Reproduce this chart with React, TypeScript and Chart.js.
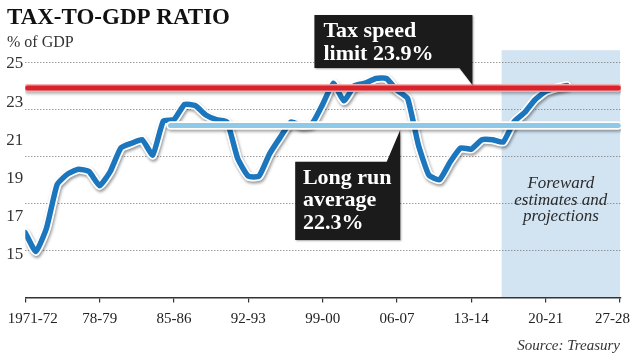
import React, { useEffect, useRef } from "react";
import { Chart, registerables } from "chart.js";

Chart.register(...registerables);

// ---- data ----
const startYears = [
  1971, 1972, 1973, 1974, 1975, 1976, 1977, 1978, 1979, 1980,
  1981, 1982, 1983, 1984, 1985, 1986, 1987, 1988, 1989, 1990,
  1991, 1992, 1993, 1994, 1995, 1996, 1997, 1998, 1999, 2000,
  2001, 2002, 2003, 2004, 2005, 2006, 2007, 2008, 2009, 2010,
  2011, 2012, 2013, 2014, 2015, 2016, 2017, 2018, 2019, 2020,
  2021, 2022,
];
const taxToGdp = [
  17.75, 16.95, 17.95, 19.8, 20.25, 20.45, 20.35, 19.75, 20.35, 21.35,
  21.55, 21.7, 21.05, 22.5, 22.55, 23.2, 23.15, 22.75, 22.55, 22.45,
  20.9, 20.15, 20.15, 21.1, 21.8, 22.45, 22.3, 22.38, 23.2, 24.1,
  23.35, 24.0, 24.1, 24.3, 24.3, 23.8, 23.45, 21.5, 20.2, 20.0,
  20.75, 21.35, 21.3, 21.7, 21.7, 21.6, 22.45, 22.85, 23.4, 23.75,
  23.9, 24.0,
];
const taxSpeedLimit = 23.9;
const taxLimitSpan = [1971.2, 2026.83];
const longRunAverage = 22.3;
const averageSpan = [1984.67, 2026.83];
const forecastSpan = [2015.85, 2027];

const xTickYears = [1971, 1978, 1985, 1992, 1999, 2006, 2013, 2020, 2027];
const xTickLabels = ["1971-72", "78-79", "85-86", "92-93", "99-00", "06-07", "13-14", "20-21", "27-28"];
const yTickValues = [15, 17, 19, 21, 23, 25];
const yGridValues = [17, 19, 21, 23, 25];

const titleText = "TAX-TO-GDP RATIO";
const unitText = "% of GDP";
const taxLabelLines = ["Tax speed", "limit 23.9%"];
const avgLabelLines = ["Long run", "average", "22.3%"];
const forecastLines = ["Foreward", "estimates and", "projections"];
const sourceText = "Source: Treasury";

const SERIF = "'Liberation Serif', 'DejaVu Serif', serif";

const decorPlugin = {
  id: "decor",
  beforeDraw(chart: any) {
    const { ctx } = chart;
    const x = chart.scales.x;
    const y = chart.scales.y;
    ctx.save();
    ctx.fillStyle = "#ffffff";
    ctx.fillRect(0, 0, chart.width, chart.height);
    const x0 = x.getPixelForValue(forecastSpan[0]);
    const x1 = x.getPixelForValue(forecastSpan[1]);
    const yTop = y.getPixelForValue(25.5);
    ctx.fillStyle = "#d2e3f2";
    ctx.fillRect(x0, yTop, x1 - x0, y.bottom - yTop);
    ctx.restore();
  },
  beforeDatasetDraw(chart: any, args: any) {
    const ds = chart.data.datasets[args.index];
    if (ds.shadow) {
      const ctx = chart.ctx;
      ctx.save();
      ctx.shadowColor = ds.shadow;
      ctx.shadowBlur = 3;
      ctx.shadowOffsetX = 1;
      ctx.shadowOffsetY = 2;
    }
  },
  afterDatasetDraw(chart: any, args: any) {
    const ds = chart.data.datasets[args.index];
    if (ds.shadow) chart.ctx.restore();
  },
  afterDraw(chart: any) {
    const { ctx } = chart;
    const x = chart.scales.x;
    const y = chart.scales.y;
    ctx.save();
    // title
    ctx.textBaseline = "alphabetic";
    ctx.textAlign = "left";
    ctx.fillStyle = "#111";
    ctx.font = `bold 23px ${SERIF}`;
    ctx.fillText(titleText, 7, 24);
    ctx.fillStyle = "#333";
    ctx.font = `16px ${SERIF}`;
    ctx.fillText(unitText, 7, 47);

    // tax speed limit box
    const redY = y.getPixelForValue(taxSpeedLimit);
    const tR = x.getPixelForValue(2013.1);
    const tL = tR - 158;
    const tT = 15;
    const tB = 68;
    ctx.save();
    ctx.shadowColor = "rgba(0,0,0,0.35)";
    ctx.shadowBlur = 2;
    ctx.shadowOffsetX = 1;
    ctx.shadowOffsetY = 1;
    ctx.fillStyle = "#1b1b1b";
    ctx.beginPath();
    ctx.moveTo(tL, tT);
    ctx.lineTo(tR, tT);
    ctx.lineTo(tR, redY - 3);
    ctx.lineTo(tR - 13, tB);
    ctx.lineTo(tL, tB);
    ctx.closePath();
    ctx.fill();
    ctx.restore();
    ctx.fillStyle = "#ffffff";
    ctx.font = `bold 22px ${SERIF}`;
    ctx.fillText(taxLabelLines[0], tL + 9, 36.7);
    ctx.fillText(taxLabelLines[1], tL + 9, 60);

    // long run average box
    const avgY = y.getPixelForValue(longRunAverage);
    const aR = x.getPixelForValue(2006.3);
    const aL = aR - 105;
    const aT = 161.7;
    const aB = 240;
    ctx.save();
    ctx.shadowColor = "rgba(0,0,0,0.35)";
    ctx.shadowBlur = 2;
    ctx.shadowOffsetX = 1;
    ctx.shadowOffsetY = 1;
    ctx.fillStyle = "#1b1b1b";
    ctx.beginPath();
    ctx.moveTo(aL, aT);
    ctx.lineTo(aR - 13.5, aT);
    ctx.lineTo(aR, avgY + 4.5);
    ctx.lineTo(aR, aB);
    ctx.lineTo(aL, aB);
    ctx.closePath();
    ctx.fill();
    ctx.restore();
    ctx.fillStyle = "#ffffff";
    ctx.font = `bold 22px ${SERIF}`;
    ctx.fillText(avgLabelLines[0], aL + 7.7, 183.5);
    ctx.fillText(avgLabelLines[1], aL + 7.7, 206);
    ctx.fillText(avgLabelLines[2], aL + 7.7, 228.5);

    // forecast note
    const fx = (x.getPixelForValue(forecastSpan[0]) + x.getPixelForValue(forecastSpan[1])) / 2;
    ctx.textAlign = "center";
    ctx.fillStyle = "#2a2a2a";
    ctx.font = `italic 17px ${SERIF}`;
    ctx.fillText(forecastLines[0], fx, 188);
    ctx.fillText(forecastLines[1], fx, 205);
    ctx.fillText(forecastLines[2], fx, 221);

    // source
    ctx.textAlign = "right";
    ctx.fillStyle = "#333";
    ctx.font = `italic 15px ${SERIF}`;
    ctx.fillText(sourceText, 620, 350);
    ctx.restore();
  },
};

export default function App() {
  const ref = useRef<HTMLCanvasElement>(null);

  useEffect(() => {
    document.body.style.margin = "0";
    const canvas = ref.current;
    if (!canvas) return;

    const mainPoints = startYears.map((yr, i) => ({ x: yr, y: taxToGdp[i] }));
    const redPoints = taxLimitSpan.map((yr) => ({ x: yr, y: taxSpeedLimit }));
    const avgPoints = averageSpan.map((yr) => ({ x: yr, y: longRunAverage }));

    const common = { xAxisID: "x", yAxisID: "y" };

    const chart = new Chart(canvas, {
      type: "line",
      data: {
        datasets: [
          { ...common, data: redPoints, borderColor: "#d8232d", borderWidth: 5, order: 0 } as any,
          { ...common, data: redPoints, borderColor: "rgba(244,172,172,0.95)", borderWidth: 8, order: 1, shadow: "rgba(0,0,0,0.3)" } as any,
          { ...common, data: avgPoints, borderColor: "#8fc9e8", borderWidth: 5, order: 2 } as any,
          { ...common, data: avgPoints, borderColor: "#ffffff", borderWidth: 8.5, order: 3, shadow: "rgba(0,0,0,0.35)" } as any,
          { ...common, data: mainPoints, borderColor: "#1c76bd", borderWidth: 5.5, order: 4, tension: 0.15 } as any,
          { ...common, data: mainPoints, borderColor: "#ffffff", borderWidth: 9, order: 5, tension: 0.15, shadow: "rgba(0,0,0,0.4)" } as any,
        ],
      },
      options: {
        responsive: false,
        animation: false,
        layout: { padding: { top: 62, left: 0, right: 0, bottom: 0 } },
        plugins: {
          legend: { display: false },
          tooltip: { enabled: false },
        },
        elements: {
          point: { radius: 0 },
          line: { borderCapStyle: "round", borderJoinStyle: "round", fill: false },
        },
        scales: {
          x: {
            type: "linear",
            position: "bottom",
            min: 1971,
            max: 2027.09,
            afterBuildTicks: (s: any) => {
              s.ticks = xTickYears.map((v) => ({ value: v }));
            },
            afterFit: (s: any) => {
              s.height = 58.5;
              s.paddingLeft = 0;
              s.paddingRight = 0;
            },
            grid: { drawOnChartArea: false, drawTicks: true, tickLength: 5, color: "#333", lineWidth: 1.2 },
            border: { display: true, color: "#333", width: 1.5 },
            ticks: {
              autoSkip: false,
              maxRotation: 0,
              minRotation: 0,
              padding: 8,
              color: "#222",
              font: { family: SERIF, size: 15 },
              callback: (_v: any, i: number) => {
                const lab = xTickLabels[i];
                if (i === 0) return "\u2002\u2002" + lab;
                if (i === xTickLabels.length - 1) return lab + "\u2002\u2002";
                return lab;
              },
            },
          },
          y: {
            type: "linear",
            position: "right",
            min: 15,
            max: 25,
            afterBuildTicks: (s: any) => {
              s.ticks = yGridValues.map((v) => ({ value: v }));
            },
            afterFit: (s: any) => {
              s.width = 11;
              s.paddingTop = 0;
              s.paddingBottom = 0;
            },
            grid: { color: "#6f6f6f", lineWidth: 1, drawTicks: false, tickLength: 0 },
            border: { display: false, dash: [1, 2] },
            ticks: { display: false },
          },
          yl: {
            type: "linear",
            position: "left",
            min: 12.775,
            max: 25.105,
            afterBuildTicks: (s: any) => {
              s.ticks = yTickValues.map((v) => ({ value: v }));
            },
            afterFit: (s: any) => {
              s.width = 25.3;
              s.paddingTop = 0;
              s.paddingBottom = 0;
            },
            grid: { display: false, drawTicks: false, tickLength: 0 },
            border: { display: false },
            ticks: {
              padding: 2,
              color: "#333",
              font: { family: SERIF, size: 17 },
              callback: (v: any) => String(v),
            },
          },
        },
      } as any,
      plugins: [decorPlugin],
    });

    return () => chart.destroy();
  }, []);

  return (
    <div style={{ width: 632, height: 356, position: "relative" }}>
      <canvas ref={ref} width={632} height={356} style={{ display: "block" }} />
    </div>
  );
}
